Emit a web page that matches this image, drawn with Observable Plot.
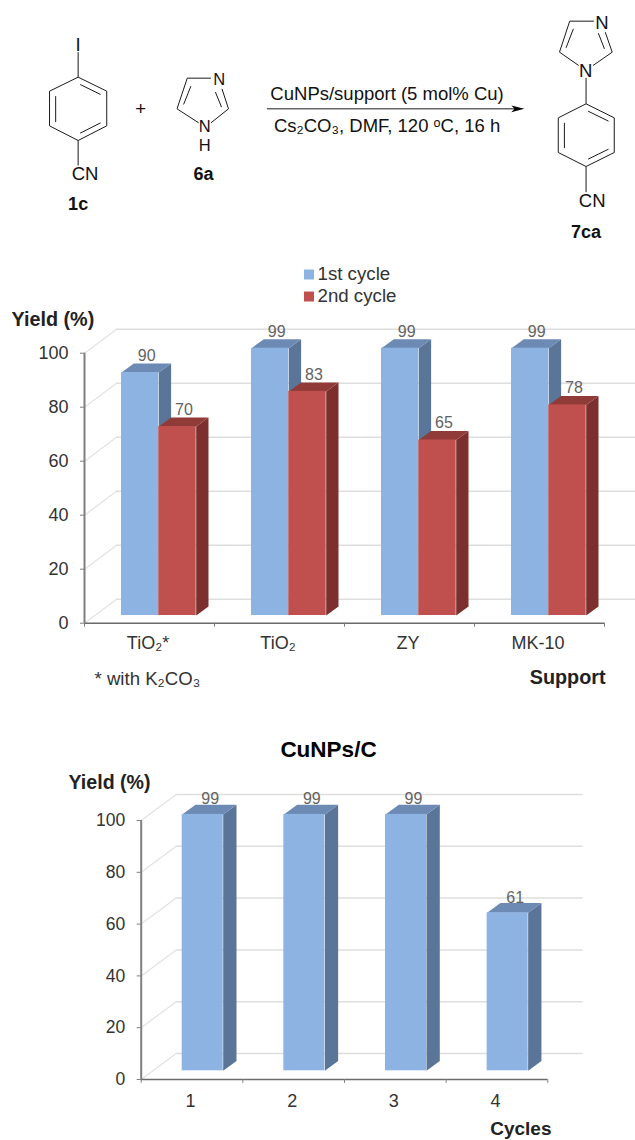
<!DOCTYPE html>
<html>
<head>
<meta charset="utf-8">
<script src="https://cdn.jsdelivr.net/npm/d3@7"></script>
<script src="https://cdn.jsdelivr.net/npm/@observablehq/plot@0.6"></script>
<style>
html,body{margin:0;padding:0;background:#fff;}
svg{display:block;max-width:none;}
#root{width:635px;height:1140px;overflow:hidden;}
</style>
</head>
<body>
<div id="root"></div>
<script>
// Reaction scheme
const schemeBonds = [
  [190,155,190,230],[190,230,260,272],[260,272,260,376],[260,376,190,420],[190,420,120,376],[120,376,120,272],[120,272,190,230],
  [195,252,245,282],[135,287,135,365],[195,398,245,367],[190,420,190,495],
  [457,233,515,233],[457,233,432,325],[432,325,485,367],[515,367,558,325],[558,325,542,265],[466,257,448,312],[526,275,541,320],
  [1393,62,1452,62],[1393,62,1368,155],[1368,155,1415,195],[1450,195,1497,155],[1497,155,1480,95],[1402,85,1384,142],[1463,98,1478,145],
  [1433,232,1433,310],[1433,310,1502,352],[1502,352,1502,456],[1502,456,1433,498],[1433,498,1365,456],[1365,456,1365,352],[1365,352,1433,310],
  [1438,332,1488,362],[1380,367,1380,443],[1438,476,1488,446],[1433,498,1433,575],
  [652,325,1262,325]
];
const arrowHead = [[1250,315],[1282,325],[1250,335],[1258,325]];
const schemeLabels = [
  ["I",190,134,false],["CN",207,521,false],["1c",190,610,true],["+",343,325,false],
  ["6a",497,521,true],
  ["CuNPs/support (5 mol% Cu)",946,282,false],["Cs₂CO₃, DMF, 120 ᵒC, 16 h",946,378,false],
  ["N",1472,68,false],["N",1432,212,false],["CN",1448,602,false],["7ca",1433,695,true]
];
const imidazoleAtoms = [["N",535,238],["N",500,378],["H",500,436]];

// Chart 1
const supports = ["TiO₂*","TiO₂","ZY","MK-10"];
const firstCycle = [90,99,99,99];
const secondCycle = [70,83,65,78];
// Chart 2
const cycleNumbers = ["1","2","3","4"];
const cycleYields = [99,99,99,61];
const yTicks = [0,20,40,60,80,100];

const BLUE = {front:"#8CB3E2",top:"#6C8AB3",side:"#5A7597"};
const RED = {front:"#C0504D",top:"#913B39",side:"#7C2F2D"};
const FONT = "'Liberation Sans', Arial, sans-serif";

const root = document.getElementById("root");

function scheme(){
  return Plot.plot({
    width:635,height:255,margin:0,
    x:{domain:[0,1554],range:[0,635],axis:null},
    y:{domain:[0,765],range:[0,255],axis:null},
    style:{fontFamily:FONT,background:"#fff"},
    marks:[
      Plot.link(schemeBonds,{x1:d=>d[0],y1:d=>d[1],x2:d=>d[2],y2:d=>d[3],stroke:"#1a1a1a",strokeWidth:1}),
      Plot.line(arrowHead,{x:d=>d[0],y:d=>d[1],fill:"#000",stroke:"none",curve:"linear-closed"}),
      Plot.text(schemeLabels.filter(d=>!d[3]),{x:d=>d[1],y:d=>d[2],text:d=>d[0],fontSize:18.5,fill:"#111"}),
      Plot.text(imidazoleAtoms,{x:d=>d[1],y:d=>d[2],text:d=>d[0],fontSize:16.5,fill:"#111"}),
      Plot.text(schemeLabels.filter(d=>d[3]),{x:d=>d[1],y:d=>d[2],text:d=>d[0],fontSize:18,fontWeight:"bold",fill:"#111"})
    ]
  });
}

function barChart(c){
  const mL=c.x0, mR=635-c.x1, mT=c.yTop, mB=c.height-c.yBase;
  const note=(t,px,py,o={})=>Plot.text([t],{frameAnchor:"top-left",dx:px-mL,dy:py-mT,text:d=>d,textAnchor:"start",lineAnchor:"middle",...o});
  const n=c.labels.length, ticksX=d3.range(n+1);
  const backY=yTicks.map(t=>t+c.wallDy);
  const marks=[
    Plot.ruleY(backY,{x1:c.wallDx,x2:c.wallRight,stroke:"#dedede",strokeWidth:1.5}),
    Plot.link(yTicks,{x1:0,x2:c.wallDx,y1:d=>d,y2:d=>d+c.wallDy,stroke:"#e2e2e2",strokeWidth:1.2}),
    Plot.ruleX([0],{y1:0,y2:100,stroke:"#7f7f7f",strokeWidth:2}),
    Plot.ruleY([0],{x1:0,x2:n,stroke:"#6b6b6b",strokeWidth:1.5}),
    Plot.ruleX(ticksX,{y1:0,y2:c.xTickLen,stroke:"#7f7f7f",strokeWidth:1}),
    Plot.axisY({ticks:yTicks,anchor:"left",tickSize:4,tickPadding:12,fontSize:c.tickFont,fill:"#333",stroke:"#7f7f7f",label:null,tickFormat:d=>String(d)})
  ];
  c.series.forEach(s=>{
    const rows=s.values.map((v,i)=>({i,v,l:i+s.a,r:i+s.b}));
    const poly=(pts)=>rows.flatMap(d=>pts(d).map(p=>({id:d.i,x:p[0],y:p[1]})));
    const opt=(fill)=>({x:"x",y:"y",z:"id",fill,stroke:"none",curve:"linear-closed",dy:c.barDy});
    marks.push(
      Plot.line(poly(d=>[[d.r,0],[d.r+c.depthX,c.depthY],[d.r+c.depthX,d.v+c.depthY],[d.r,d.v]]),opt(s.colors.side)),
      Plot.line(poly(d=>[[d.l,d.v],[d.l+c.depthX,d.v+c.depthY],[d.r+c.depthX,d.v+c.depthY],[d.r,d.v]]),opt(s.colors.top)),
      Plot.rect(rows,{x1:"l",x2:"r",y1:()=>0,y2:"v",fill:s.colors.front,dy:c.barDy})
    );
  });
  c.series.forEach(s=>{
    const rows=s.values.map((v,i)=>({i,v,x:i+(s.a+s.b)/2}));
    marks.push(Plot.text(rows,{x:"x",y:"v",text:d=>String(d.v),dx:c.labelDx,dy:c.labelDy,fontSize:c.labelFont,fill:"#636363"}));
  });
  marks.push(Plot.text(c.labels,{x:(d,i)=>i+0.5,y:()=>0,text:d=>d,dx:-1.5,dy:c.xLabelDy,fontSize:c.xFont,fill:"#333"}));
  c.notes.forEach(a=>marks.push(note(a[0],a[1],a[2],a[3])));
  (c.legend||[]).forEach(l=>{
    marks.push(Plot.dot([0],{frameAnchor:"top-left",dx:l.x-mL,dy:l.y-mT,symbol:"square",r:5.64,fill:l.color,stroke:"none"}));
  });
  return Plot.plot({
    width:635,height:c.height,marginLeft:mL,marginRight:mR,marginTop:mT,marginBottom:mB,
    x:{domain:[0,n],axis:null},
    y:{domain:[0,100],axis:null},
    style:{fontFamily:FONT,background:"#fff",overflow:"visible"},
    marks
  });
}

root.append(scheme());

root.append(barChart({
  height:460,x0:84,x1:604,yTop:97.7,yBase:367.7,
  labels:supports,
  wallDx:32/130,wallDy:24/2.7,wallRight:552/130,
  depthX:12.3/130,depthY:9/2.7,barDy:-7.7,xTickLen:-1.5,
  tickFont:18,labelFont:16,xFont:18,labelDx:6.5,labelDy:-24.5,xLabelDy:20.5,
  series:[
    {values:firstCycle,colors:BLUE,a:37/130,b:74.3/130},
    {values:secondCycle,colors:RED,a:74.3/130,b:111.7/130}
  ],
  legend:[{x:308.5,y:19,color:BLUE.front},{x:308.5,y:41,color:RED.front}],
  notes:[
    ["1st cycle",317,19,{fontSize:18.7,fill:"#333"}],
    ["2nd cycle",317,41,{fontSize:18.7,fill:"#333"}],
    ["Yield (%)",11,64,{fontSize:19.8,fontWeight:"bold",fill:"#222"}],
    ["* with K₂CO₃",94,424,{fontSize:18.6,fill:"#333"}],
    ["Support",605,421.7,{fontSize:19.8,fontWeight:"bold",fill:"#222",textAnchor:"end"}]
  ]
}));

root.append(barChart({
  height:425,x0:140.7,x1:547.3,yTop:105,yBase:364,
  labels:cycleNumbers,
  wallDx:35/101.65,wallDy:26/2.59,wallRight:442/101.65,
  depthX:13.3/101.65,depthY:9.7/2.59,barDy:-8.7,xTickLen:-1.5,
  tickFont:17.5,labelFont:16,xFont:18,labelDx:7.5,labelDy:-24,xLabelDy:21.7,
  series:[
    {values:cycleYields,colors:BLUE,a:41/101.65,b:82/101.65}
  ],
  notes:[
    ["CuNPs/C",328,34,{fontSize:22.5,fontWeight:"bold",fill:"#000",textAnchor:"middle"}],
    ["Yield (%)",68,67,{fontSize:19.6,fontWeight:"bold",fill:"#222"}],
    ["Cycles",551,413.5,{fontSize:19,fontWeight:"bold",fill:"#222",textAnchor:"end"}]
  ]
}));
</script>
</body>
</html>
